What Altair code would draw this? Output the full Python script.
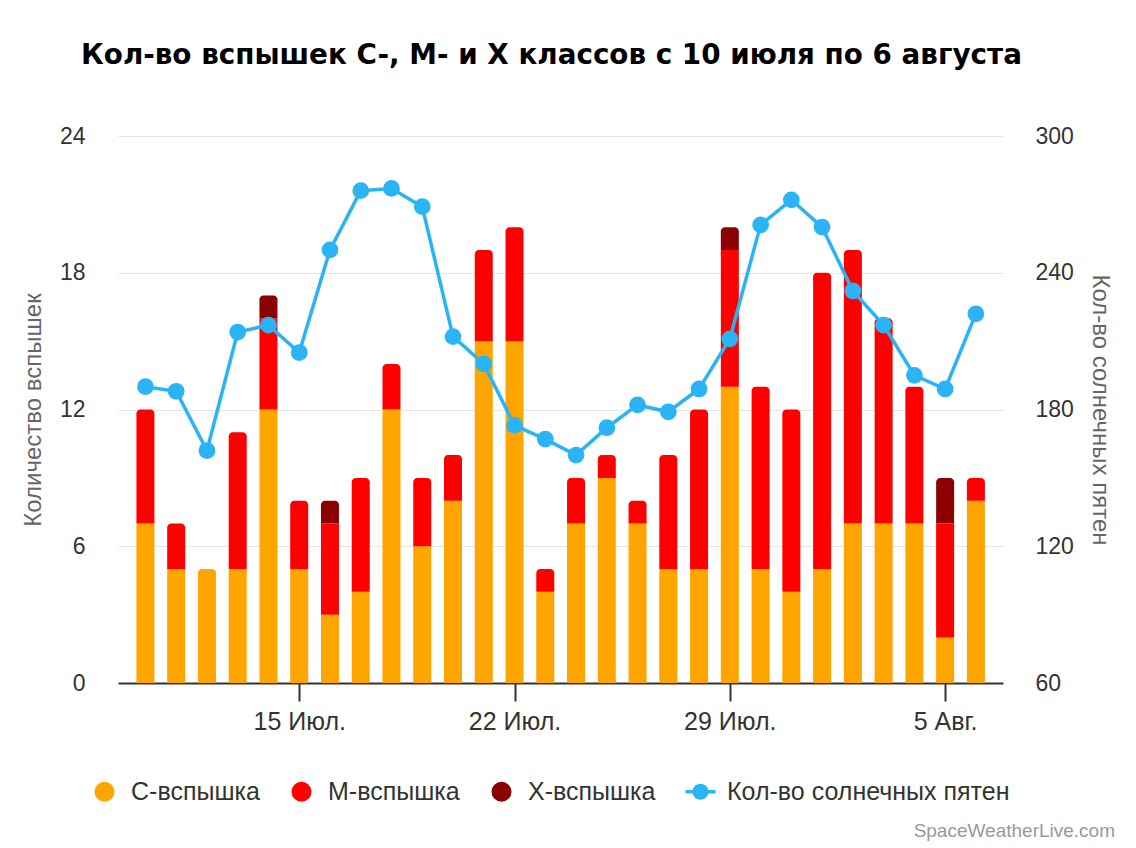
import altair as alt
import pandas as pd

# ---------------- data ----------------
dates = [
    "2024-07-10", "2024-07-11", "2024-07-12", "2024-07-13", "2024-07-14",
    "2024-07-15", "2024-07-16", "2024-07-17", "2024-07-18", "2024-07-19",
    "2024-07-20", "2024-07-21", "2024-07-22", "2024-07-23", "2024-07-24",
    "2024-07-25", "2024-07-26", "2024-07-27", "2024-07-28", "2024-07-29",
    "2024-07-30", "2024-07-31", "2024-08-01", "2024-08-02", "2024-08-03",
    "2024-08-04", "2024-08-05", "2024-08-06",
]
c_flares = [7, 5, 5, 5, 12, 5, 3, 4, 12, 6, 8, 15, 15, 4, 7, 9, 7, 5, 5, 13, 5, 4, 5, 7, 7, 7, 2, 8]
m_flares = [5, 2, 0, 6, 4, 3, 4, 5, 2, 3, 2, 4, 5, 1, 2, 1, 1, 5, 7, 6, 8, 8, 13, 12, 9, 6, 5, 1]
x_flares = [0, 0, 0, 0, 1, 0, 1, 0, 0, 0, 0, 0, 0, 0, 0, 0, 0, 0, 0, 1, 0, 0, 0, 0, 0, 0, 2, 0]
sunspots = [190, 188, 162, 214, 217, 205, 250, 276, 277, 269, 212, 200, 173, 167,
            160, 172, 182, 179, 189, 211, 261, 272, 260, 232, 217, 195, 189, 222]

class_names = ["C-вспышка", "M-вспышка", "X-вспышка"]
line_name = "Кол-во солнечных пятен"
class_colors = ["#FFA500", "#FF0000", "#8B0000"]
line_color = "#2AB4F6"

tick_dates = ["2024-07-15", "2024-07-22", "2024-07-29", "2024-08-05"]
tick_labels = ["15 Июл.", "22 Июл.", "29 Июл.", "5 Авг."]

left_ticks = [0, 6, 12, 18, 24]
right_ticks = [60, 120, 180, 240, 300]

title_text = "Кол-во вспышек C-, M- и X классов с 10 июля по 6 августа"
credit_text = "SpaceWeatherLive.com"

# ---------------- tables ----------------
rows = []
for i, d in enumerate(dates):
    counts = [c_flares[i], m_flares[i], x_flares[i]]
    nz = [k for k in range(3) if counts[k] > 0]
    top = nz[-1] if nz else -1
    base = 0
    for k in range(3):
        if counts[k] > 0:
            rows.append(dict(date=d, cls=class_names[k], y0=base,
                             y1=base + counts[k], top=(k == top)))
            base += counts[k]
bars_df = pd.DataFrame(rows)
line_df = pd.DataFrame({"date": dates, "sunspots": sunspots})
credit_df = pd.DataFrame({"t": [credit_text]})


def dt(s, h=0, mi=0):
    y, m, d = (int(v) for v in s.split("-"))
    return alt.DateTime(year=y, month=m, date=d, hours=h, minutes=mi, utc=True)


def ms(s):
    return int(pd.Timestamp(s, tz="UTC").value // 10**6)


label_expr = "''"
for d, lab in zip(reversed(tick_dates), reversed(tick_labels)):
    label_expr = f"(datum.value == {ms(d)} ? '{lab}' : {label_expr})"

AX_FONT = "Liberation Sans"

x_enc = alt.X(
    "date:T",
    scale=alt.Scale(type="utc", domain=[dt("2024-07-09", 6, 30), dt("2024-08-06", 17, 15)]),
    axis=alt.Axis(
        values=[dt(d) for d in tick_dates], labelExpr=label_expr, title=None,
        grid=False, tickSize=18, tickWidth=2, tickColor="#333333",
        domainColor="#333333", domainWidth=2, labelFontSize=25,
        labelColor="#333333", labelFont=AX_FONT, labelPadding=8,
    ),
)

line_symbol = ("M-1.5,-0.175L1.5,-0.175L1.5,0.175L-1.5,0.175Z "
               "M0.8,0A0.8,0.8,0,1,1,-0.8,0A0.8,0.8,0,1,1,0.8,0Z")

legend = alt.Legend(
    orient="none", legendX=-26, legendY=643, direction="horizontal", title=None,
    symbolSize=400, labelFontSize=25, labelColor="#333333",
    labelFont=AX_FONT, labelOffset=14, columnPadding=29, labelLimit=500, padding=0,
    symbolStrokeWidth=0,
)

color_enc = alt.Color(
    "cls:N",
    scale=alt.Scale(domain=class_names + [line_name], range=class_colors + [line_color]),
    legend=legend,
)
shape_enc = alt.Shape(
    "cls:N",
    scale=alt.Scale(domain=class_names + [line_name],
                    range=["circle", "circle", "circle", line_symbol]),
    legend=legend,
)

y_left = alt.Y(
    "y1:Q",
    scale=alt.Scale(domain=[0, 24]),
    axis=alt.Axis(
        values=left_ticks, title="Количество вспышек", titleFontSize=24,
        titleColor="#666666", titleFontWeight="normal", titleFont=AX_FONT,
        labelFontSize=23, labelColor="#333333", labelFont=AX_FONT,
        ticks=False, tickSize=0, domain=False, gridColor="#e6e6e6",
        labelPadding=33, titlePadding=14,
    ),
)

base = alt.Chart(bars_df).encode(x=x_enc, y=y_left, y2="y0:Q", color=color_enc)
low_bars = base.transform_filter("!datum.top").mark_bar(size=18)
top_bars = base.transform_filter("datum.top").mark_bar(
    size=18, cornerRadiusTopLeft=4, cornerRadiusTopRight=4
)
legend_proxy = alt.Chart(bars_df).transform_filter("false").mark_point(
    filled=True, opacity=1
).encode(x=x_enc, y=alt.Y("y1:Q"), color=color_enc, shape=shape_enc)

bars = alt.layer(low_bars, top_bars, legend_proxy)

line = alt.Chart(line_df).mark_line(
    color=line_color, strokeWidth=3.5,
    point=alt.OverlayMarkDef(filled=True, size=280, color=line_color, opacity=1),
).encode(
    x=x_enc,
    y=alt.Y(
        "sunspots:Q",
        scale=alt.Scale(domain=[60, 300]),
        axis=alt.Axis(
            orient="right", values=right_ticks, grid=False, title=line_name,
            titleFontSize=24, titleColor="#666666", titleFontWeight="normal",
            titleFont=AX_FONT, labelFontSize=23, labelColor="#333333",
            labelFont=AX_FONT, ticks=False, tickSize=0, domain=False,
            labelPadding=32, titlePadding=14,
        ),
    ),
)

credit = alt.Chart(credit_df).mark_text(
    align="right", baseline="alphabetic", fontSize=19, color="#999999", font=AX_FONT
).encode(x=alt.value(997), y=alt.value(701), text="t:N")

chart = (
    alt.layer(bars, line, credit)
    .resolve_scale(y="independent")
    .properties(
        width=885, height=547,
        autosize="none",
        padding={"left": 110, "top": 128, "right": 115, "bottom": 158},
        title=alt.TitleParams(
            text=title_text, font="DejaVu Sans", fontSize=27.8, fontWeight="bold",
            color="#000000", anchor="middle", offset=55, dx=-9,
        ),
    )
    .configure_view(stroke=None)
)

chart.save("out.html", embed_options={"renderer": "svg", "actions": False})
